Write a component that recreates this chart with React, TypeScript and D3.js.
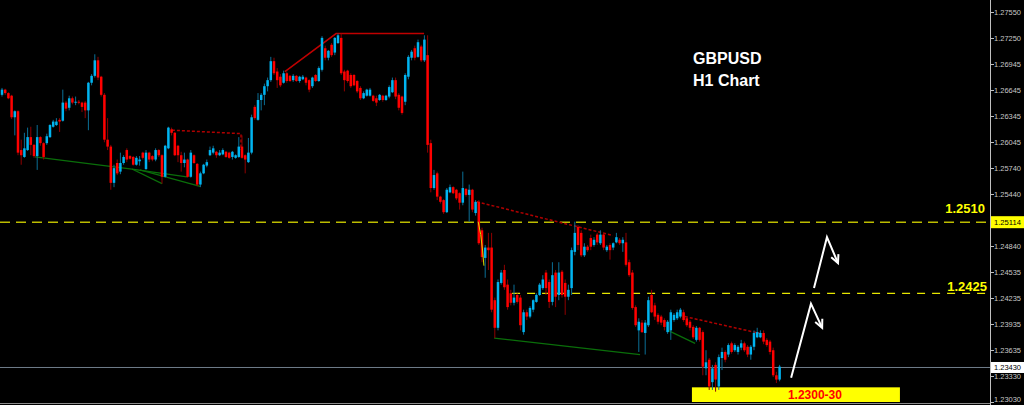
import React, { useEffect } from 'react';
import * as d3 from 'd3';

// [open, high, low, close]
type Candle = [number, number, number, number];
type Pt = [number, number]; // [bar index, price]

const sessionA: Candle[] = [
  [1.2659,1.2667,1.2657,1.2665],[1.2665,1.2666,1.2659,1.2661],[1.2661,1.2662,1.2654,1.2655],[1.2658,1.2659,1.2631,1.2633],
  [1.2633,1.2641,1.2612,1.2640],[1.2640,1.2641,1.2589,1.2592],[1.2595,1.2607,1.2578,1.2589],[1.2587,1.2615,1.2586,1.2597],
  [1.2595,1.2621,1.2594,1.2610],[1.2610,1.2622,1.2589,1.2601],[1.2601,1.2602,1.2586,1.2588],[1.2588,1.2624,1.2572,1.2610],
  [1.2610,1.2611,1.2600,1.2603],[1.2603,1.2604,1.2584,1.2587],[1.2603,1.2614,1.2601,1.2611],[1.2610,1.2625,1.2609,1.2624],
  [1.2622,1.2630,1.2621,1.2628],[1.2624,1.2632,1.2623,1.2628],[1.2630,1.2632,1.2616,1.2628],[1.2629,1.2665,1.2628,1.2650],
  [1.2650,1.2652,1.2640,1.2643],[1.2644,1.2658,1.2641,1.2655],[1.2655,1.2657,1.2648,1.2650],[1.2650,1.2657,1.2647,1.2651],
  [1.2651,1.2653,1.2648,1.2650],[1.2650,1.2651,1.2639,1.2645],[1.2650,1.2652,1.2632,1.2641],[1.2641,1.2674,1.2618,1.2673],
  [1.2673,1.2683,1.2670,1.2681],[1.2681,1.2706,1.2679,1.2699],[1.2699,1.2703,1.2676,1.2679],[1.2680,1.2681,1.2657,1.2659],
  [1.2659,1.2661,1.2604,1.2607],[1.2607,1.2632,1.2595,1.2599],[1.2599,1.2601,1.2549,1.2557],[1.2557,1.2578,1.2552,1.2574],
  [1.2580,1.2584,1.2566,1.2568],[1.2570,1.2592,1.2567,1.2580],[1.2580,1.2589,1.2578,1.2587],[1.2595,1.2597,1.2581,1.2584],
];

const sessionB: Candle[] = [
  [1.2588,1.2589,1.2584,1.2585],[1.2587,1.2588,1.2577,1.2578],[1.2578,1.2588,1.2577,1.2586],[1.2582,1.2588,1.2577,1.2584],
  [1.2592,1.2593,1.2584,1.2586],[1.2573,1.2595,1.2572,1.2592],[1.2592,1.2593,1.2581,1.2584],[1.2588,1.2589,1.2582,1.2584],
  [1.2584,1.2597,1.2582,1.2595],[1.2595,1.2596,1.2587,1.2589],[1.2589,1.2590,1.2556,1.2564],[1.2564,1.2601,1.2563,1.2600],
  [1.2597,1.2622,1.2596,1.2621],[1.2619,1.2621,1.2612,1.2615],[1.2615,1.2616,1.2588,1.2589],[1.2600,1.2601,1.2581,1.2589],
  [1.2589,1.2593,1.2570,1.2580],[1.2580,1.2592,1.2575,1.2584],[1.2584,1.2585,1.2563,1.2564],[1.2564,1.2595,1.2563,1.2592],
  [1.2589,1.2590,1.2579,1.2580],[1.2579,1.2580,1.2553,1.2555],[1.2555,1.2570,1.2552,1.2568],[1.2568,1.2579,1.2567,1.2578],
  [1.2577,1.2584,1.2575,1.2581],[1.2589,1.2599,1.2588,1.2595],[1.2592,1.2600,1.2590,1.2597],[1.2593,1.2594,1.2586,1.2589],
  [1.2589,1.2595,1.2588,1.2592],[1.2590,1.2597,1.2589,1.2595],[1.2593,1.2594,1.2586,1.2587],[1.2592,1.2593,1.2585,1.2586],
  [1.2587,1.2594,1.2584,1.2593],[1.2586,1.2590,1.2585,1.2589],[1.2587,1.2610,1.2586,1.2599],[1.2599,1.2612,1.2585,1.2586],
  [1.2589,1.2590,1.2568,1.2584],[1.2581,1.2609,1.2580,1.2592],[1.2592,1.2636,1.2590,1.2633],[1.2645,1.2647,1.2630,1.2632],
  [1.2630,1.2661,1.2629,1.2653],
];

const sessionC: Candle[] = [
  [1.2653,1.2661,1.2641,1.2659],[1.2659,1.2672,1.2647,1.2669],[1.2669,1.2679,1.2663,1.2676],[1.2676,1.2703,1.2674,1.2698],
  [1.2698,1.2702,1.2682,1.2684],[1.2686,1.2690,1.2667,1.2676],[1.2680,1.2683,1.2668,1.2670],[1.2673,1.2687,1.2672,1.2684],
  [1.2684,1.2686,1.2673,1.2675],[1.2681,1.2682,1.2674,1.2675],[1.2676,1.2683,1.2674,1.2681],[1.2681,1.2682,1.2674,1.2675],
  [1.2675,1.2681,1.2673,1.2680],[1.2677,1.2682,1.2676,1.2680],[1.2679,1.2680,1.2670,1.2673],[1.2676,1.2677,1.2662,1.2665],
  [1.2669,1.2680,1.2667,1.2679],[1.2682,1.2683,1.2674,1.2675],[1.2675,1.2692,1.2674,1.2690],[1.2688,1.2727,1.2686,1.2725],
  [1.2713,1.2716,1.2699,1.2702],[1.2702,1.2711,1.2699,1.2710],[1.2717,1.2719,1.2703,1.2705],[1.2708,1.2726,1.2705,1.2725],
  [1.2719,1.2730,1.2718,1.2728],[1.2725,1.2730,1.2682,1.2684],[1.2686,1.2688,1.2663,1.2676],[1.2687,1.2688,1.2673,1.2675],
  [1.2682,1.2684,1.2667,1.2669],[1.2682,1.2683,1.2669,1.2670],[1.2675,1.2676,1.2661,1.2663],[1.2667,1.2669,1.2653,1.2655],
  [1.2655,1.2663,1.2654,1.2661],[1.2658,1.2666,1.2657,1.2665],[1.2658,1.2667,1.2657,1.2665],[1.2658,1.2659,1.2651,1.2652],
  [1.2655,1.2658,1.2646,1.2650],[1.2653,1.2660,1.2652,1.2659],[1.2658,1.2659,1.2651,1.2653],[1.2653,1.2659,1.2652,1.2658],
];

const sessionD: Candle[] = [
  [1.2657,1.2670,1.2655,1.2668],[1.2662,1.2679,1.2661,1.2676],[1.2676,1.2679,1.2654,1.2657],[1.2659,1.2661,1.2641,1.2644],
  [1.2657,1.2658,1.2636,1.2638],[1.2651,1.2684,1.2647,1.2682],[1.2680,1.2705,1.2677,1.2703],[1.2702,1.2711,1.2699,1.2709],
  [1.2713,1.2716,1.2699,1.2702],[1.2703,1.2723,1.2702,1.2720],[1.2715,1.2717,1.2697,1.2699],[1.2699,1.2728,1.2697,1.2723],
  [1.2705,1.2728,1.2592,1.2601],[1.2603,1.2607,1.2546,1.2551],[1.2551,1.2572,1.2549,1.2566],[1.2568,1.2570,1.2537,1.2541],
  [1.2541,1.2542,1.2533,1.2535],[1.2537,1.2538,1.2521,1.2523],[1.2523,1.2551,1.2522,1.2549],[1.2546,1.2555,1.2545,1.2552],
  [1.2552,1.2553,1.2544,1.2545],[1.2549,1.2550,1.2537,1.2539],[1.2545,1.2546,1.2526,1.2534],[1.2534,1.2570,1.2531,1.2551],
  [1.2550,1.2551,1.2541,1.2543],[1.2543,1.2555,1.2512,1.2549],[1.2549,1.2550,1.2523,1.2526],[1.2522,1.2537,1.2519,1.2535],
  [1.2535,1.2537,1.2485,1.2487],[1.2502,1.2505,1.2465,1.2471],[1.2470,1.2485,1.2447,1.2482],[1.2482,1.2499,1.2456,1.2479],
  [1.2482,1.2499,1.2407,1.2410],[1.2421,1.2424,1.2377,1.2389],[1.2389,1.2445,1.2386,1.2442],[1.2441,1.2456,1.2439,1.2453],
  [1.2456,1.2462,1.2433,1.2436],[1.2439,1.2445,1.2410,1.2413],[1.2429,1.2433,1.2415,1.2418],[1.2418,1.2439,1.2415,1.2424],
  [1.2427,1.2429,1.2417,1.2419],[1.2424,1.2427,1.2386,1.2392],
];

const sessionE: Candle[] = [
  [1.2384,1.2410,1.2381,1.2407],[1.2407,1.2410,1.2398,1.2402],[1.2402,1.2414,1.2400,1.2412],[1.2410,1.2422,1.2407,1.2421],
  [1.2419,1.2429,1.2418,1.2427],[1.2427,1.2441,1.2426,1.2439],[1.2435,1.2450,1.2433,1.2445],[1.2453,1.2456,1.2427,1.2435],
  [1.2442,1.2445,1.2412,1.2419],[1.2419,1.2465,1.2415,1.2450],[1.2453,1.2456,1.2413,1.2425],[1.2427,1.2465,1.2421,1.2453],
  [1.2454,1.2456,1.2424,1.2427],[1.2441,1.2445,1.2404,1.2425],[1.2425,1.2439,1.2421,1.2433],[1.2435,1.2482,1.2427,1.2479],
  [1.2477,1.2512,1.2473,1.2499],[1.2506,1.2508,1.2479,1.2485],[1.2499,1.2502,1.2471,1.2473],[1.2473,1.2487,1.2471,1.2483],
  [1.2483,1.2485,1.2477,1.2479],[1.2493,1.2497,1.2479,1.2483],[1.2485,1.2494,1.2483,1.2491],[1.2497,1.2499,1.2485,1.2488],
  [1.2487,1.2502,1.2485,1.2497],[1.2497,1.2499,1.2479,1.2482],[1.2479,1.2485,1.2477,1.2483],[1.2485,1.2487,1.2468,1.2479],
  [1.2482,1.2488,1.2479,1.2487],[1.2488,1.2499,1.2487,1.2494],[1.2491,1.2493,1.2485,1.2487],[1.2487,1.2494,1.2477,1.2491],
  [1.2488,1.2499,1.2460,1.2462],[1.2465,1.2468,1.2448,1.2450],[1.2453,1.2456,1.2410,1.2412],[1.2413,1.2415,1.2390,1.2392],
  [1.2386,1.2400,1.2361,1.2396],[1.2395,1.2398,1.2383,1.2384],[1.2383,1.2398,1.2358,1.2395],[1.2392,1.2425,1.2390,1.2421],
];

const sessionF: Candle[] = [
  [1.2427,1.2433,1.2406,1.2407],[1.2415,1.2418,1.2398,1.2402],[1.2404,1.2406,1.2393,1.2396],[1.2402,1.2404,1.2392,1.2395],
  [1.2398,1.2400,1.2386,1.2390],[1.2384,1.2398,1.2382,1.2396],[1.2386,1.2410,1.2375,1.2407],[1.2398,1.2406,1.2396,1.2404],
  [1.2400,1.2410,1.2398,1.2407],[1.2402,1.2412,1.2400,1.2410],[1.2407,1.2410,1.2396,1.2398],[1.2400,1.2402,1.2390,1.2392],
  [1.2396,1.2398,1.2386,1.2389],[1.2390,1.2392,1.2376,1.2378],[1.2375,1.2391,1.2373,1.2389],[1.2389,1.2390,1.2373,1.2375],
  [1.2384,1.2386,1.2334,1.2344],[1.2342,1.2363,1.2334,1.2349],[1.2352,1.2354,1.2317,1.2321],[1.2326,1.2346,1.2317,1.2342],
  [1.2346,1.2349,1.2315,1.2329],[1.2321,1.2358,1.2317,1.2355],[1.2354,1.2366,1.2340,1.2361],[1.2361,1.2363,1.2349,1.2352],
  [1.2358,1.2371,1.2355,1.2369],[1.2371,1.2373,1.2359,1.2361],[1.2363,1.2371,1.2361,1.2369],[1.2361,1.2369,1.2358,1.2367],
  [1.2366,1.2375,1.2363,1.2371],[1.2371,1.2373,1.2361,1.2363],[1.2367,1.2369,1.2355,1.2358],[1.2358,1.2369,1.2352,1.2367],
  [1.2367,1.2386,1.2363,1.2383],[1.2378,1.2389,1.2377,1.2384],[1.2378,1.2386,1.2377,1.2383],[1.2383,1.2386,1.2370,1.2373],
  [1.2375,1.2377,1.2367,1.2369],[1.2373,1.2375,1.2358,1.2361],[1.2363,1.2366,1.2332,1.2334],[1.2334,1.2338,1.2325,1.2329],
  [1.2329,1.2346,1.2327,1.2344],
];

const priceTicks = [1.2755, 1.2725, 1.26945, 1.26645, 1.26345, 1.26045, 1.2574, 1.2544,
  1.2484, 1.24535, 1.24235, 1.23935, 1.23635, 1.2333, 1.2303];

const upperLevel = 1.25114;
const upperLevelText = '1.2510';
const lowerLevel = 1.2429;
const lowerLevelText = '1.2425';
const lowerLevelStart = 159.4;
const bidPrice = 1.2343;
const targetZone = { from: 215.6, to: 280.6, low: 1.2303, high: 1.2320 };
const targetText = '1.2300-30';
const titleLines = ['GBPUSD', 'H1 Chart'];

const solidTrend: Pt[] = [[88.4, 1.2686], [104.4, 1.2730], [131.9, 1.2730]];
const dottedTrends: Pt[][] = [
  [[53.1, 1.2618], [74.7, 1.2614], [74.7, 1.2595]],
  [[148.4, 1.2535], [190.9, 1.2496]],
  [[213.4, 1.2402], [237.5, 1.2382]],
];
const greenTrends: Pt[][] = [
  [[10.3, 1.2587], [40.6, 1.2573]],
  [[40.6, 1.2573], [50, 1.2556]],
  [[40.6, 1.2573], [57.8, 1.2564]],
  [[43.1, 1.2572], [61.9, 1.2553]],
  [[153.8, 1.2377], [199.4, 1.2358]],
  [[208.1, 1.2386], [216.6, 1.2371]],
];
const yellowTrend: Pt[] = [[148.8, 1.2512], [149.6, 1.2497], [150.2, 1.2478], [150.6, 1.2461]];
const arrowPaths: Pt[][] = [
  [[246.6, 1.2331], [252.8, 1.2417], [256.3, 1.2389]],
  [[253.75, 1.2435], [257.8, 1.2494], [261.25, 1.2464]],
];

const W = 1024;
const H = 405;
const AXIS_X = 990;
const FONT = 'Liberation Sans, Arial, sans-serif';

export default function App() {
  useEffect(() => {
    document.body.style.margin = '0';
    document.body.style.background = '#000';
  }, []);

  const candles: Candle[] = [...sessionA, ...sessionB, ...sessionC, ...sessionD, ...sessionE, ...sessionF];
  const n = candles.length;
  const x = d3.scaleLinear().domain([0, n - 1]).range([2, 2 + 3.2 * (n - 1)]);
  const y = d3.scaleLinear().domain([1.2303, 1.2755]).range([402, 12]);
  const line = d3.line<Pt>().x(d => x(d[0])).y(d => y(d[1]));
  const fmt = d3.format('.5f');
  const bodyW = 2.5;

  const arrowHead = (pts: Pt[]) => {
    const a = pts[pts.length - 2];
    const b = pts[pts.length - 1];
    const x1 = x(a[0]), y1 = y(a[1]), x2 = x(b[0]), y2 = y(b[1]);
    const ang = Math.atan2(y2 - y1, x2 - x1);
    const len = 9;
    const s = 0.45;
    const p1 = [x2 - len * Math.cos(ang - s), y2 - len * Math.sin(ang - s)];
    const p2 = [x2 - len * Math.cos(ang + s), y2 - len * Math.sin(ang + s)];
    return `M${p1[0]},${p1[1]}L${x2},${y2}L${p2[0]},${p2[1]}`;
  };

  const axisLabel = (p: number, fill: string) => (
    <text x={994} y={Math.min(y(p), 398.5) + 3} fill={fill} fontFamily={FONT} fontSize={8} textLength={27} lengthAdjust="spacingAndGlyphs">{fmt(p)}</text>
  );

  return (
    <svg width={W} height={H} style={{ position: 'fixed', left: 0, top: 0, background: '#000', display: 'block' }}>
      <rect x={0} y={0} width={W} height={H} fill="#000" />

      {/* level lines */}
      <line x1={0} x2={AXIS_X} y1={y(upperLevel)} y2={y(upperLevel)} stroke="#bcbc00" strokeWidth={1.5} strokeDasharray="10,6" />
      <line x1={x(lowerLevelStart)} x2={AXIS_X} y1={y(lowerLevel)} y2={y(lowerLevel)} stroke="#e8e800" strokeWidth={1.2} strokeDasharray="8,7" />
      <line x1={0} x2={AXIS_X} y1={y(bidPrice)} y2={y(bidPrice)} stroke="#6f7c89" strokeWidth={1} />

      {/* target zone */}
      <rect x={x(targetZone.from)} y={y(targetZone.high)} width={x(targetZone.to) - x(targetZone.from)}
        height={y(targetZone.low) - y(targetZone.high)} fill="#ffff00" />
      <text x={(x(targetZone.from) + x(targetZone.to)) / 2 + 19} y={y(targetZone.low) - 3} fill="#ff0000"
        fontFamily={FONT} fontWeight="bold" fontSize={12} textAnchor="middle">{targetText}</text>

      {/* trend lines */}
      {greenTrends.map((t, i) => (
        <path key={'g' + i} d={line(t) || ''} fill="none" stroke="#0a6e0a" strokeWidth={1.3} />
      ))}
      <path d={line(solidTrend) || ''} fill="none" stroke="#c00000" strokeWidth={1.5} />
      {dottedTrends.map((t, i) => (
        <path key={'d' + i} d={line(t) || ''} fill="none" stroke="#b00000" strokeWidth={1.5} strokeDasharray="3,2" />
      ))}

      {/* candles */}
      {candles.map((c, i) => {
        const [o, h, l, cl] = c;
        const up = cl >= o;
        const cx = x(i);
        const top = y(Math.max(o, cl));
        const bot = y(Math.min(o, cl));
        return (
          <g key={i}>
            <line x1={cx} x2={cx} y1={y(h)} y2={y(l)} stroke={up ? '#0b6f96' : '#900000'} strokeWidth={1} />
            <rect x={cx - bodyW / 2} y={top} width={bodyW} height={Math.max(1, bot - top)} fill={up ? '#00b4f0' : '#ff0000'} />
          </g>
        );
      })}

      <path d={line(yellowTrend) || ''} fill="none" stroke="#d8d800" strokeWidth={1} />

      {/* arrows */}
      {arrowPaths.map((p, i) => (
        <g key={'a' + i}>
          <path d={line(p) || ''} fill="none" stroke="#ffffff" strokeWidth={2} strokeLinejoin="miter" />
          <path d={arrowHead(p)} fill="none" stroke="#ffffff" strokeWidth={2} />
        </g>
      ))}

      {/* level labels */}
      <text x={985} y={y(upperLevel) - 9} fill="#ffff00" fontFamily={FONT} fontWeight="bold" fontSize={13} textAnchor="end">{upperLevelText}</text>
      <text x={987} y={y(lowerLevel) - 2} fill="#ffff00" fontFamily={FONT} fontWeight="bold" fontSize={13} textAnchor="end">{lowerLevelText}</text>

      {/* title */}
      {titleLines.map((t, i) => (
        <text key={t} x={693} y={64 + i * 22} fill="#ffffff" fontFamily={FONT} fontWeight="bold" fontSize={16}>{t}</text>
      ))}

      {/* bottom border */}
      <line x1={0} x2={AXIS_X} y1={403.5} y2={403.5} stroke="#8a8a8a" strokeWidth={1} />

      {/* price axis */}
      <line x1={AXIS_X + 0.5} x2={AXIS_X + 0.5} y1={0} y2={H} stroke="#c0c0c0" strokeWidth={1} />
      {priceTicks.map(p => (
        <g key={p}>
          <line x1={AXIS_X} x2={AXIS_X + 4} y1={Math.round(y(p)) + 0.5} y2={Math.round(y(p)) + 0.5} stroke="#c0c0c0" />
          {axisLabel(p, '#c8c8c8')}
        </g>
      ))}
      <rect x={AXIS_X + 1} y={y(upperLevel) - 6} width={W - AXIS_X - 1} height={12} fill="#ffff00" />
      {axisLabel(upperLevel, '#000')}
      <rect x={AXIS_X + 1} y={y(bidPrice) - 5.5} width={W - AXIS_X - 1} height={11} fill="#ffffff" />
      {axisLabel(bidPrice, '#000')}
    </svg>
  );
}
